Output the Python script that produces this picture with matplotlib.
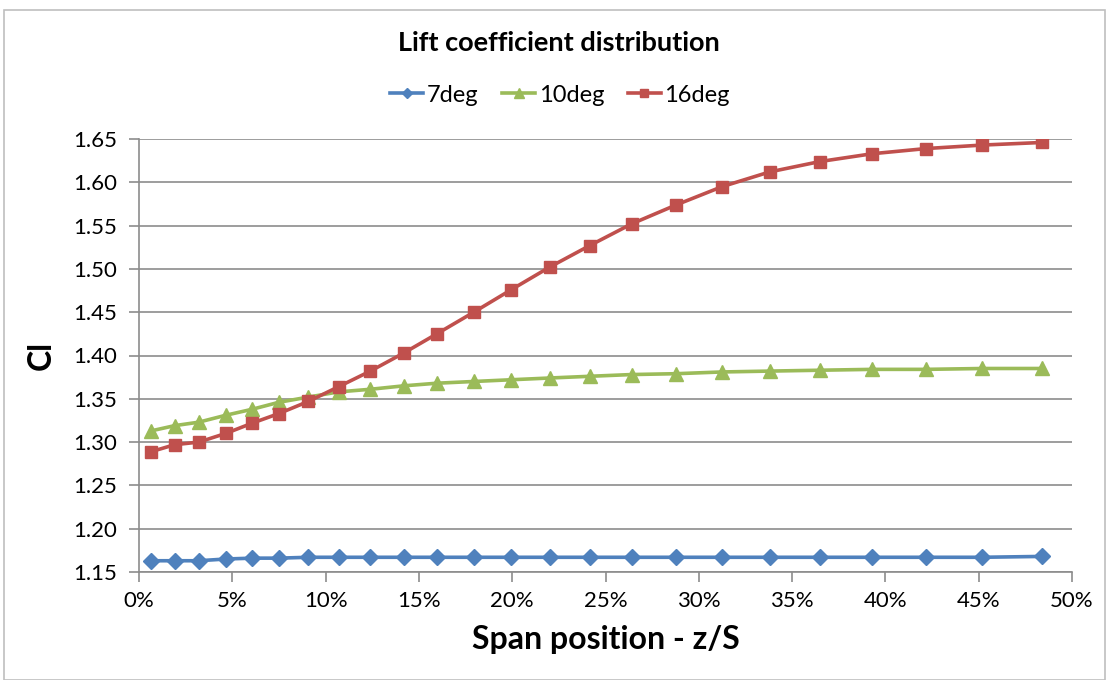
import matplotlib.pyplot as plt
from matplotlib.patches import Rectangle
from matplotlib.ticker import FuncFormatter, MultipleLocator

plt.rcParams['font.family'] = ['Lato', 'DejaVu Sans']

# span position in percent
span = [0.66, 1.91, 3.20, 4.65, 6.08, 7.50, 9.08, 10.7, 12.4, 14.2, 15.96, 17.94,
        19.95, 22.0, 24.16, 26.4, 28.8, 31.25, 33.8, 36.5, 39.3, 42.2, 45.2, 48.4]

cl_7deg = [1.163, 1.163, 1.163, 1.165, 1.166, 1.166, 1.167, 1.167, 1.167, 1.167, 1.167, 1.167,
           1.167, 1.167, 1.167, 1.167, 1.167, 1.167, 1.167, 1.167, 1.167, 1.167, 1.167, 1.168]
cl_10deg = [1.313, 1.319, 1.323, 1.331, 1.338, 1.346, 1.352, 1.358, 1.361, 1.365, 1.368, 1.370,
            1.372, 1.374, 1.376, 1.378, 1.379, 1.381, 1.382, 1.383, 1.384, 1.384, 1.385, 1.385]
cl_16deg = [1.289, 1.297, 1.300, 1.310, 1.322, 1.333, 1.347, 1.364, 1.382, 1.403, 1.425, 1.450,
            1.476, 1.502, 1.527, 1.552, 1.574, 1.595, 1.612, 1.624, 1.633, 1.639, 1.643, 1.646]

fig = plt.figure(figsize=(11.09, 6.80), dpi=100)
fig.patches.append(Rectangle((4/1109, 0), 1 - 8/1109, 1 - 10/680, transform=fig.transFigure,
                             fill=False, edgecolor='#bfbfbf', linewidth=1.2))
ax = fig.add_axes([139/1109, 1 - 572/680, (1072 - 139)/1109, (572 - 139)/680])

ax.plot(span, cl_7deg, color='#4F81BD', lw=2.6, marker='D', ms=8, label='7deg')
ax.plot(span, cl_10deg, color='#9BBB59', lw=2.6, marker='^', ms=9.5, label='10deg')
ax.plot(span, cl_16deg, color='#C0504D', lw=2.6, marker='s', ms=9, label='16deg')

ax.set_xlim(0, 50)
ax.set_ylim(1.15, 1.65)
ax.xaxis.set_major_locator(MultipleLocator(5))
ax.yaxis.set_major_locator(MultipleLocator(0.05))
ax.xaxis.set_major_formatter(FuncFormatter(lambda v, p: '%d%%' % round(v)))
ax.yaxis.set_major_formatter(FuncFormatter(lambda v, p: '%.2f' % v))
ax.grid(axis='y', color='#8c8c8c', lw=1.2)
ax.set_axisbelow(True)
for s in ['top', 'right']:
    ax.spines[s].set_visible(False)
for s in ['left', 'bottom']:
    ax.spines[s].set_color('#8c8c8c')
    ax.spines[s].set_linewidth(1.2)
ax.tick_params(axis='both', direction='out', length=7, color='#8c8c8c', width=1.2,
               labelsize=16)
ax.tick_params(axis='y', pad=9)
ax.tick_params(axis='x', pad=7)

fig.text(559/1109, 1 - 43/680, 'Lift coefficient distribution', ha='center', va='center',
         fontsize=19.5, fontweight='bold')
ax.set_xlabel('Span position - z/S', fontsize=23, fontweight='bold', labelpad=10)
ax.set_ylabel('Cl', fontsize=23, fontweight='bold', labelpad=12)

leg = fig.legend(loc='center', bbox_to_anchor=(560/1109, 1 - 95/680), ncol=3, frameon=False,
                 fontsize=17, handlelength=1.4, handletextpad=0.15, columnspacing=1.0,
                 markerscale=0.7)

fig.savefig('out.png', dpi=100)
